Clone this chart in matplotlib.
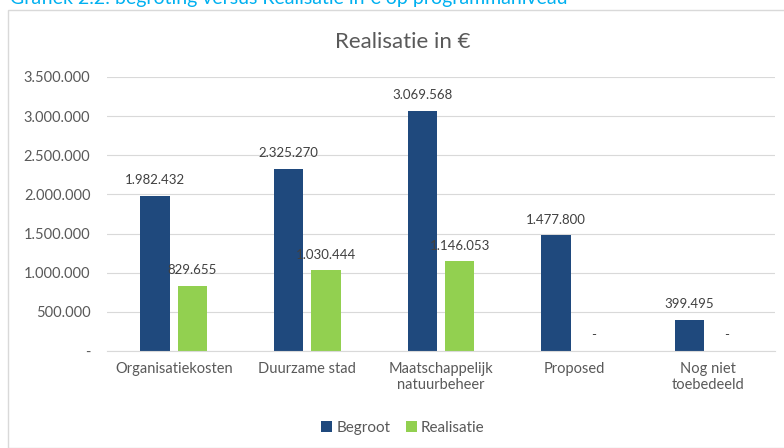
import matplotlib
matplotlib.use("Agg")
import matplotlib.pyplot as plt
import numpy as np
from matplotlib.patches import Rectangle

categories = ["Organisatiekosten", "Duurzame stad", "Maatschappelijk\nnatuurbeheer", "Proposed", "Nog niet\ntoebedeeld"]
begroot = [1982432, 2325270, 3069568, 1477800, 399495]
realisatie = [829655, 1030444, 1146053, 0, 0]
yticks = [0, 500000, 1000000, 1500000, 2000000, 2500000, 3000000, 3500000]

def fmt(v):
    if v == 0:
        return "-"
    return f"{v:,.0f}".replace(",", ".")

plt.rcParams['font.family'] = ['Lato', 'DejaVu Sans']
txt = "#595959"
c1 = "#1f497d"
c2 = "#92d050"

fig = plt.figure(figsize=(7.84, 4.48), dpi=100)
fig.patches.append(Rectangle((8/784, 0), 1, 1 - 10/448, transform=fig.transFigure,
                             fill=False, edgecolor="#d9d9d9", linewidth=1))
fig.text(10/784, 1 - 4/448, "Grafiek 2.2: begroting versus Realisatie in \u20ac op programmaniveau",
         color="#00b0f0", fontsize=14, va="baseline", ha="left")

ax = fig.add_axes([107/784, 1 - 351/448, (775 - 107)/784, (351 - 77)/448])
x = np.arange(len(categories))
w = 0.22
b1 = ax.bar(x - 0.14, begroot, w, color=c1)
b2 = ax.bar(x + 0.14, realisatie, w, color=c2)
for rects, vals in ((b1, begroot), (b2, realisatie)):
    for r, v in zip(rects, vals):
        ax.annotate(fmt(v), (r.get_x() + r.get_width() / 2, v), xytext=(0, 7),
                    textcoords="offset points", ha="center", va="bottom",
                    fontsize=9.5, color="#404040")

ax.set_ylim(0, 3500000)
ax.set_xlim(-0.5, len(categories) - 0.5)
ax.set_yticks(yticks)
ax.set_yticklabels([fmt(v) for v in yticks], fontsize=10.5, color=txt)
ax.set_xticks(x)
ax.set_xticklabels(categories, fontsize=10.5, color=txt)
ax.tick_params(length=0)
ax.tick_params(axis="y", pad=12)
ax.tick_params(axis="x", pad=8)
ax.grid(axis="y", color="#d9d9d9", linewidth=0.8)
ax.set_axisbelow(True)
for s in ("top", "right", "left"):
    ax.spines[s].set_visible(False)
ax.spines["bottom"].set_color("#d9d9d9")

fig.text(403/784, 1 - 42/448, "Realisatie in \u20ac", fontsize=16, color=txt, ha="center", va="center")
fig.legend([b1, b2], ["Begroot", "Realisatie"], loc="center", bbox_to_anchor=(403/784, 1 - 428/448),
           ncol=2, frameon=False, fontsize=11, labelcolor=txt, handlelength=0.7, handleheight=0.7,
           handletextpad=0.3, columnspacing=1.0)

fig.savefig("out.png", dpi=100)
